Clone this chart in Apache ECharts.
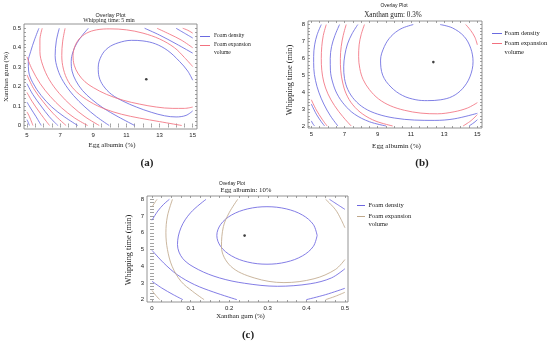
<!DOCTYPE html>
<html><head><meta charset="utf-8">
<script src="https://cdn.jsdelivr.net/npm/echarts@6/dist/echarts.min.js"></script>
<style>html,body{margin:0;padding:0;background:#fff}#c{width:550px;height:344px}</style>
</head><body><div id="c"></div>
<script>
// ---------- Panel (a): Whipping time 5 min, x = Egg albumin, y = Xanthan gum ----------
const A_X_LABELS = [5, 7, 9, 11, 13, 15];
const A_Y_LABELS = [0, 0.1, 0.2, 0.3, 0.4, 0.5];
const A_DENSITY = [
  [[15,0.233],[14.7,0.28],[14.2,0.33],[13.5,0.385],[12.75,0.42],[12,0.435],[11.3,0.438],[10.5,0.425],[9.9,0.4],[9.5,0.36],[9.3,0.3],[9.35,0.25],[9.6,0.205],[10.1,0.16],[10.8,0.125],[11.6,0.095],[12.5,0.068],[13.3,0.05],[14,0.044],[14.6,0.052],[15,0.075]],
  [[8.7,0.5],[8.35,0.465],[8.02,0.425],[7.78,0.38],[7.67,0.33],[7.72,0.28],[7.95,0.23],[8.35,0.18],[8.9,0.135],[9.6,0.09],[10.5,0.045],[11.5,0]],
  [[12.1,0.5],[13,0.465],[14,0.42],[15,0.372]],
  [[6.95,0.5],[6.77,0.435],[6.7,0.36],[6.85,0.29],[7.2,0.225],[7.8,0.155],[8.5,0.095],[9.2,0.045],[9.96,0]],
  [[14,0.5],[14.5,0.475],[15,0.45]],
  [[5.72,0.5],[5.45,0.44],[5.22,0.38],[5.08,0.33],[5.1,0.28],[5.35,0.22],[5.85,0.155],[6.5,0.095],[7.25,0.045],[8.06,0]],
  [[5,0.215],[5.35,0.16],[5.85,0.1],[6.35,0.045],[6.86,0]],
  [[5,0.12],[5.25,0.085],[5.55,0.045],[5.86,0]],
  [[5,0.03],[5.08,0.015],[5.15,0]]
];
const A_EXPANSION = [
  [[15,0.303],[14.5,0.35],[13.9,0.4],[13,0.445],[12,0.475],[11,0.492],[10,0.497],[9.2,0.492],[8.6,0.475],[8.15,0.445],[7.88,0.405],[7.78,0.36],[7.85,0.31],[8.1,0.265],[8.5,0.225],[9,0.195],[9.8,0.16],[10.8,0.13],[11.8,0.11],[12.8,0.095],[13.8,0.088],[14.5,0.088],[15,0.095]],
  [[7.3,0.5],[7.15,0.43],[7.1,0.36],[7.2,0.29],[7.5,0.225],[8,0.172],[8.8,0.122],[9.7,0.085],[10.7,0.058],[11.8,0.038],[13,0.02],[14.34,0]],
  [[12.85,0.5],[13.6,0.47],[14.3,0.44],[15,0.4]],
  [[5.92,0.5],[5.78,0.44],[5.78,0.38],[5.95,0.31],[6.35,0.235],[6.95,0.165],[7.7,0.1],[8.5,0.045],[9.36,0]],
  [[14.4,0.5],[14.7,0.49],[15,0.475]],
  [[5,0.353],[5.3,0.29],[5.8,0.215],[6.4,0.15],[7.1,0.09],[7.85,0.04],[8.66,0]],
  [[5,0.26],[5.4,0.19],[5.95,0.125],[6.6,0.06],[7.36,0]],
  [[5,0.17],[5.3,0.125],[5.7,0.075],[6.0,0.04],[6.36,0]],
  [[5,0.07],[5.15,0.045],[5.36,0]]
];
const A_OPTIMUM = [[12.2, 0.238]];

// ---------- Panel (b): Xanthan gum 0.3%, x = Egg albumin, y = Whipping time ----------
const B_X_LABELS = [5, 7, 9, 11, 13, 15];
const B_Y_LABELS = [2, 3, 4, 5, 6, 7, 8];
const B_DENSITY = [
  [[11.14,8],[10.4,7.75],[9.8,7.3],[9.4,6.7],[9.17,5.9],[9.3,5.0],[9.8,4.3],[10.5,3.8],[11.3,3.55],[12,3.5],[12.8,3.55],[13.5,3.75],[14.1,4.2],[14.55,4.9],[14.74,5.8],[14.6,6.6],[14.2,7.3],[13.5,7.8],[12.76,8]],
  [[7.8,8],[7.45,7.45],[7.18,6.85],[7.02,6.2],[6.95,5.5],[7.0,4.8],[7.2,4.15],[7.6,3.55],[8.2,3.05],[9.0,2.7],[10.0,2.47],[11.2,2.35],[12.4,2.33],[13.6,2.42],[15,2.75]],
  [[6.7,8],[6.42,7.35],[6.22,6.7],[6.14,6.0],[6.15,5.3],[6.28,4.6],[6.55,3.9],[7.0,3.25],[7.6,2.7],[8.5,2.25],[9.5,2]],
  [[14.5,2],[14.8,2.2],[15,2.37]],
  [[5.6,8],[5.35,7.4],[5.2,6.8],[5.14,6.1],[5.15,5.4],[5.25,4.7],[5.45,4.0],[5.75,3.3],[6.15,2.6],[6.6,2]],
  [[5,3.3],[5.3,2.7],[5.6,2.25],[5.8,2]],
  [[5,2.3],[5.1,2.12],[5.2,2]]
];
const B_EXPANSION = [
  [[8.2,8],[8.0,7.4],[7.88,6.8],[7.85,6.1],[7.92,5.4],[8.12,4.75],[8.5,4.15],[9.05,3.6],[9.75,3.2],[10.6,2.93],[11.6,2.76],[12.6,2.72],[13.6,2.84],[14.4,3.06],[15,3.38]],
  [[14.3,8],[14.6,7.65],[14.85,7.25],[15,6.8]],
  [[7.1,8],[6.92,7.35],[6.8,6.7],[6.75,6.0],[6.77,5.3],[6.88,4.6],[7.1,3.9],[7.5,3.25],[8.1,2.7],[8.9,2.28],[9.9,2]],
  [[14.14,2],[14.6,2.3],[15,2.67]],
  [[5.9,8],[5.72,7.35],[5.63,6.7],[5.6,6.0],[5.63,5.3],[5.75,4.6],[6.0,3.9],[6.4,3.2],[6.9,2.55],[7.4,2]],
  [[5,3.55],[5.3,2.95],[5.65,2.4],[5.95,2]]
];
const B_OPTIMUM = [[12.35, 5.78]];

// ---------- Panel (c): Egg albumin 10%, x = Xanthan gum, y = Whipping time ----------
const C_X_LABELS = [0, 0.1, 0.2, 0.3, 0.4, 0.5];
const C_Y_LABELS = [2, 3, 4, 5, 6, 7, 8];
const C_DENSITY = [
  [[0.428,5.84],[0.418,6.5],[0.39,7.06],[0.348,7.43],[0.298,7.56],[0.248,7.43],[0.206,7.06],[0.178,6.5],[0.168,5.84],[0.178,5.18],[0.206,4.62],[0.248,4.25],[0.298,4.12],[0.348,4.25],[0.39,4.62],[0.418,5.18],[0.428,5.84]],
  [[0.14,8],[0.1,7.2],[0.075,6.3],[0.066,5.3],[0.08,4.45],[0.12,3.8],[0.175,3.3],[0.24,2.98],[0.325,2.8],[0.41,2.95],[0.465,3.3],[0.5,3.85]],
  [[0.46,8],[0.48,7.7],[0.5,7.4]],
  [[0,6.75],[0.015,7.3],[0.03,7.7],[0.045,8]],
  [[0,4.95],[0.03,4.2],[0.065,3.5],[0.11,2.9],[0.16,2.45],[0.22,2.0]],
  [[0.4,2],[0.45,2.3],[0.5,2.68]],
  [[0,3.1],[0.025,2.7],[0.055,2.3],[0.08,2]]
];
const C_EXPANSION = [
  [[0.222,8],[0.2,7.2],[0.185,6.37],[0.18,5.17],[0.204,4.0],[0.265,3.3],[0.342,3.02],[0.42,3.25],[0.475,3.8],[0.5,4.4]],
  [[0.45,8],[0.475,7.4],[0.49,6.8],[0.5,6.3]],
  [[0.053,8],[0.04,7.0],[0.036,6.0],[0.04,5.0],[0.052,4.0],[0.075,3.1],[0.105,2.5],[0.135,2]],
  [[0.45,2],[0.475,2.2],[0.5,2.44]],
  [[0,7.55],[0.007,7.8],[0.013,8]],
  [[0,2.55],[0.01,2.25],[0.02,2]]
];
const C_OPTIMUM = [[0.24, 5.83]];

const LEGEND_NAMES = ['Foam density', 'Foam expansion', 'volume'];

// ---------- helpers ----------
const SANS = '"Liberation Sans", Arial, sans-serif';
const SERIF = '"Liberation Serif", "Times New Roman", serif';
const BLUE = '#6a6ae0', RED = '#f2717f', TAN = '#c0a98c', BLUE_C = '#6d66e0';
const FRAME = '#7a7a7a';
const LW = 0.85;

function steps(a, b, s) { const r = []; const n = Math.round((b - a) / s); for (let i = 0; i <= n; i++) r.push(+(a + i * s).toFixed(4)); return r; }

function xPair(g, min, max, labels, ticks, fs) {
  const base = {
    type: 'value', gridIndex: g, min: min, max: max,
    axisLine: { show: false }, splitLine: { show: false },
    axisTick: { show: true, inside: true, length: 2, customValues: ticks, lineStyle: { color: FRAME, width: 0.7 } }
  };
  return [
    Object.assign({}, base, { position: 'bottom', axisLabel: { show: true, customValues: labels, fontSize: fs, fontFamily: SANS, color: '#222', margin: 3 } }),
    Object.assign({}, base, { position: 'top', axisLabel: { show: false } })
  ];
}
function yPair(g, min, max, labels, ticks, fs) {
  const base = {
    type: 'value', gridIndex: g, min: min, max: max,
    axisLine: { show: false }, splitLine: { show: false },
    axisTick: { show: true, inside: true, length: 2, customValues: ticks, lineStyle: { color: FRAME, width: 0.7 } }
  };
  return [
    Object.assign({}, base, { position: 'left', axisLabel: { show: true, customValues: labels, fontSize: fs, fontFamily: SANS, color: '#222', margin: 3 } }),
    Object.assign({}, base, { position: 'right', axisLabel: { show: false } })
  ];
}
function lines(curves, xi, yi, color) {
  return curves.map(c => ({
    type: 'line', xAxisIndex: xi, yAxisIndex: yi, data: c, smooth: 0.35,
    symbol: 'none', silent: true, clip: true, lineStyle: { color: color, width: LW }
  }));
}
function star(d, xi, yi) {
  return { type: 'scatter', xAxisIndex: xi, yAxisIndex: yi, data: d, symbol: 'circle', symbolSize: 2.6, silent: true, itemStyle: { color: '#111' } };
}
function txt(t, x, y, font, align, rot) {
  return { type: 'text', x: x, y: y, rotation: rot || 0, silent: true,
    style: { text: t, x: 0, y: 0, font: font, fill: '#222', textAlign: align || 'center', textVerticalAlign: 'middle' } };
}
function seg(x1, x2, y, color) {
  return { type: 'line', silent: true, shape: { x1: x1, y1: y, x2: x2, y2: y }, style: { stroke: color, lineWidth: 1 } };
}

const grids = [
  { left: 24, top: 24, width: 173, height: 105, show: true, borderColor: FRAME, borderWidth: 0.8 },
  { left: 308, top: 21, width: 174, height: 107, show: true, borderColor: FRAME, borderWidth: 0.8 },
  { left: 147, top: 196, width: 201, height: 106, show: true, borderColor: FRAME, borderWidth: 0.8 }
];

const xAxes = [].concat(
  xPair(0, 4.82, 15.26, A_X_LABELS, steps(5, 15, 0.5), 6),
  xPair(1, 4.8, 15.28, B_X_LABELS, steps(5, 15, 0.5), 6),
  xPair(2, -0.013, 0.508, C_X_LABELS, steps(0, 0.5, 0.025), 6)
);
const yAxes = [].concat(
  yPair(0, -0.018, 0.522, A_Y_LABELS, steps(0, 0.5, 0.02), 6),
  yPair(1, 1.88, 8.21, B_Y_LABELS, steps(2, 8, 0.2), 6),
  yPair(2, 1.86, 8.2, C_Y_LABELS, steps(2, 8, 0.2), 6)
);

const series = [].concat(
  lines(A_DENSITY, 0, 0, BLUE), lines(A_EXPANSION, 0, 0, RED), [star(A_OPTIMUM, 0, 0)],
  lines(B_DENSITY, 2, 2, BLUE), lines(B_EXPANSION, 2, 2, RED), [star(B_OPTIMUM, 2, 2)],
  lines(C_DENSITY, 4, 4, BLUE_C), lines(C_EXPANSION, 4, 4, TAN), [star(C_OPTIMUM, 4, 4)]
);

const graphics = [
  // panel (a)
  txt('Overlay Plot', 110.5, 15.5, '5.5px ' + SANS),
  txt('Whipping time: 5 min', 109, 20.8, '5.8px ' + SERIF),
  txt('Egg albumin (%)', 112, 145.5, '6.8px ' + SERIF),
  txt('Xanthan gum (%)', 6.5, 77, '7px ' + SERIF, 'center', Math.PI / 2),
  seg(200, 210, 36.5, BLUE), seg(200, 210, 45.5, RED),
  txt(LEGEND_NAMES[0], 214, 36, '5.6px ' + SERIF, 'left'),
  txt(LEGEND_NAMES[1], 214, 45, '5.6px ' + SERIF, 'left'),
  txt(LEGEND_NAMES[2], 214, 52.5, '5.6px ' + SERIF, 'left'),
  txt('(a)', 147, 163, 'bold 11px ' + SERIF),
  // panel (b)
  txt('Overlay Plot', 394, 5.5, '5px ' + SANS),
  txt('Xanthan gum: 0.3%', 393, 15, '7.2px ' + SERIF),
  txt('Egg albumin (%)', 396.5, 146, '7.1px ' + SERIF),
  txt('Whipping time (min)', 290, 80, '8.3px ' + SERIF, 'center', Math.PI / 2),
  seg(492, 502, 33.5, BLUE), seg(492, 502, 43.5, RED),
  txt(LEGEND_NAMES[0], 504.5, 33.5, '6.5px ' + SERIF, 'left'),
  txt(LEGEND_NAMES[1], 504.5, 43.5, '6.5px ' + SERIF, 'left'),
  txt(LEGEND_NAMES[2], 504.5, 52.3, '6.5px ' + SERIF, 'left'),
  txt('(b)', 422, 163, 'bold 11px ' + SERIF),
  // panel (c)
  txt('Overlay Plot', 232, 183.5, '4.8px ' + SANS),
  txt('Egg albumin: 10%', 246, 190.5, '6.8px ' + SERIF),
  txt('Xanthan gum (%)', 240.5, 316.5, '6.8px ' + SERIF),
  txt('Whipping time (min)', 128.5, 250, '8.3px ' + SERIF, 'center', Math.PI / 2),
  seg(357, 365, 205.5, BLUE_C), seg(357, 365, 216.5, TAN),
  txt(LEGEND_NAMES[0], 368.5, 205.7, '6.5px ' + SERIF, 'left'),
  txt(LEGEND_NAMES[1], 368.5, 216, '6.5px ' + SERIF, 'left'),
  txt(LEGEND_NAMES[2], 368.5, 224.3, '6.5px ' + SERIF, 'left'),
  txt('(c)', 248, 335, 'bold 11px ' + SERIF)
];

const chart = echarts.init(document.getElementById('c'), null, { renderer: 'canvas' });
chart.setOption({
  animation: false,
  backgroundColor: '#fff',
  grid: grids,
  xAxis: xAxes,
  yAxis: yAxes,
  series: series,
  graphic: { elements: graphics }
});
</script></body></html>
